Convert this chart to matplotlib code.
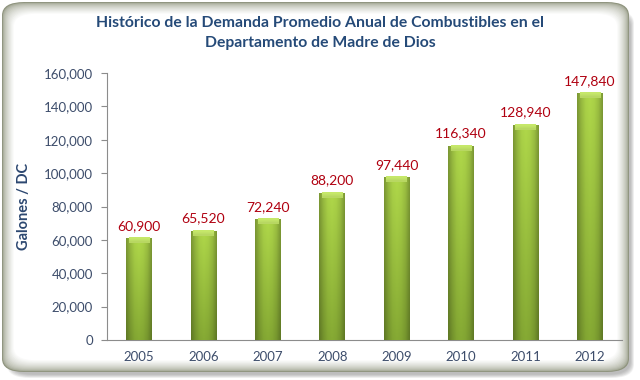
import matplotlib
matplotlib.use("Agg")
import matplotlib.pyplot as plt
import numpy as np
from matplotlib.patches import FancyBboxPatch
from matplotlib.ticker import FuncFormatter
import matplotlib.colors as mcolors

years = ["2005", "2006", "2007", "2008", "2009", "2010", "2011", "2012"]
values = [60900, 65520, 72240, 88200, 97440, 116340, 128940, 147840]
title = "Histórico de la Demanda Promedio Anual de Combustibles en el\nDepartamento de Madre de Dios"
ylabel = "Galones / DC"

plt.rcParams['font.family'] = ['Lato', 'DejaVu Sans']

fig = plt.figure(figsize=(6.4, 3.8), dpi=100)
fig.patch.set_facecolor("white")

W, H = 640.0, 380.0
def fx(px): return px / W
def fy(py): return py / H

# shadow (bottom-right)
for i in range(8):
    sh = FancyBboxPatch((fx(7 + i * 0.5), fy(2 + i * 0.5)), fx(627 - i * 1.0), fy(368 - i * 1.0),
                        boxstyle="round,pad=0,rounding_size=0.035", transform=fig.transFigure,
                        facecolor="#707070", edgecolor="none", alpha=0.07, zorder=0)
    fig.add_artist(sh)
outer = np.array(mcolors.to_rgb("#8f947e"))
inner = np.array(mcolors.to_rgb("#ffffff"))
n = 14
for i in range(n):
    t = (i / (n - 1)) ** 0.55
    c = outer * (1 - t) + inner * t
    inset = i * 0.9
    p = FancyBboxPatch((fx(2 + inset), fy(8 + inset)), fx(627 - 2 * inset), fy(370 - 2 * inset),
                       boxstyle="round,pad=0,rounding_size=0.035",
                       transform=fig.transFigure, facecolor=c, edgecolor="none", zorder=1)
    fig.add_artist(p)

ax = fig.add_axes([107 / W, 1 - 340 / H, (622 - 107) / W, (340 - 73) / H])
ax.set_zorder(5)
ax.patch.set_visible(False)

x = np.arange(len(years))
bw = 0.4
bars = ax.bar(x, values, width=bw, color="#8db33a", edgecolor="none", zorder=2)

# cylinder-like gradient: horizontal profile with lighter top, darker bottom
hprof = np.array([0.70, 0.86, 0.97, 1.0, 0.97, 0.88, 0.70])
hpos = np.linspace(0, 1, len(hprof))
xs = np.linspace(0, 1, 64)
hp = np.interp(xs, hpos, hprof)
top_c = np.array(mcolors.to_rgb("#b0d84a"))
bot_c = np.array(mcolors.to_rgb("#86aa34"))
ny = 60
vt = np.linspace(0, 1, ny)[:, None, None]  # 0 at top row
base = top_c * (1 - vt) + bot_c * vt
img = np.clip(base * hp[None, :, None], 0, 1)
cap_col = np.array(mcolors.to_rgb("#c6e86a"))
for b, v in zip(bars, values):
    x0 = b.get_x()
    im = ax.imshow(img, extent=(x0, x0 + bw, 0, v), aspect="auto", zorder=3, interpolation="bilinear")
    im.set_clip_path(b)
    # bright bevelled top cap
    cap_h = 3000
    cap = np.tile(cap_col, (2, 2, 1))
    cap[1] = cap_col * 0.93
    ax.imshow(cap, extent=(x0 + bw * 0.1, x0 + bw * 0.9, v - cap_h, v), aspect="auto", zorder=4,
              interpolation="bilinear")
    ax.text(b.get_x() + bw / 2, v + 3800, f"{v:,}", ha="center", va="bottom",
            color="#b00010", fontsize=10, zorder=6)

ax.set_xlim(-0.5, len(years) - 0.5)
ax.set_ylim(0, 160000)
ax.set_yticks(np.arange(0, 160001, 20000))
ax.yaxis.set_major_formatter(FuncFormatter(lambda v, p: f"{int(v):,}"))
ax.set_xticks(x)
ax.set_xticklabels(years)
for s in ["top", "right"]:
    ax.spines[s].set_visible(False)
for s in ["left", "bottom"]:
    ax.spines[s].set_color("#8c8c8c")
    ax.spines[s].set_linewidth(0.8)
ax.tick_params(axis="y", colors="#8c8c8c", labelcolor="#3d4d6b", labelsize=9.5, length=4, width=0.8, pad=6)
ax.tick_params(axis="x", length=0, labelcolor="#3d4d6b", labelsize=9.5, pad=8)

ax.set_ylabel(ylabel, fontsize=10.5, fontweight="bold", color="#2c4770")
ax.yaxis.set_label_coords(-0.148, 0.5)

fig.text(0.5, 1 - 33 / H, title, ha="center", va="center", fontsize=11.3, fontweight="bold",
         color="#254a78", linespacing=1.55, zorder=10)

fig.savefig("out.png", dpi=100)
